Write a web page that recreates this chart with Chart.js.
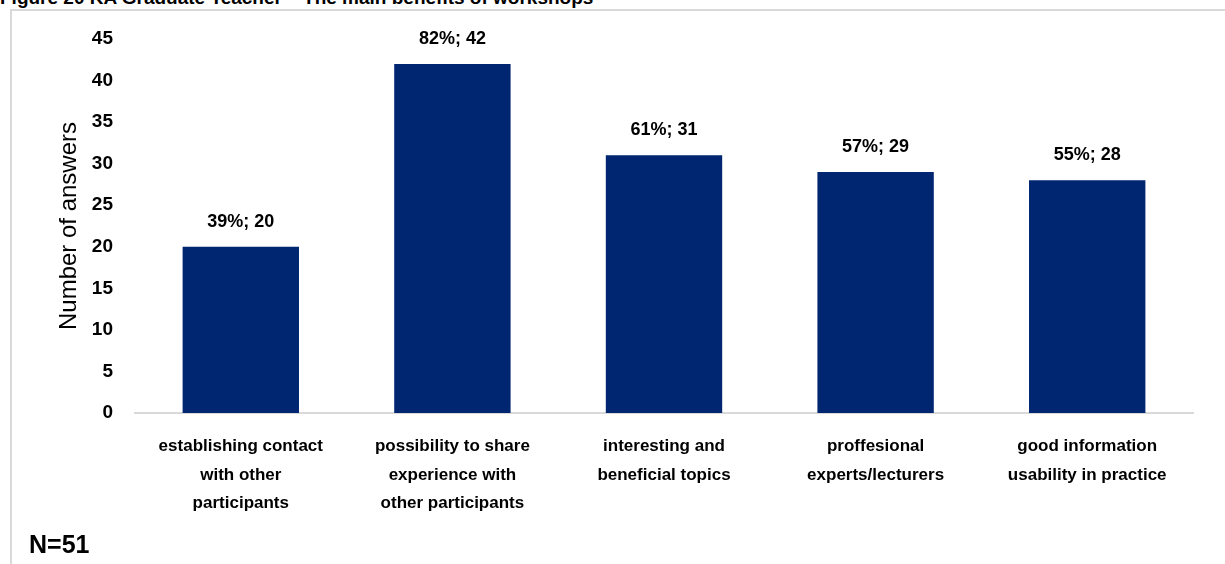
<!DOCTYPE html>
<html>
<head>
<meta charset="utf-8">
<script src="https://cdn.jsdelivr.net/npm/chart.js@4.4.1/dist/chart.umd.min.js"></script>
<style>
  html, body { margin: 0; padding: 0; background: #fff; overflow: hidden; }
  #wrap { position: relative; width: 1225px; height: 564px; }
  #caption { position: absolute; left: 0; top: -12px; font: bold 19px "Liberation Sans", Arial, sans-serif; color: #000; white-space: nowrap; line-height: 19px; }
  #frame { position: absolute; left: 10px; top: 9px; width: 1230px; height: 600px; border-left: 2px solid #d9d9d9; border-top: 2px solid #d9d9d9; background: #fff; }
  #note { position: absolute; left: 29px; top: 530px; font: bold 25px "Liberation Sans", Arial, sans-serif; color: #000; }
  canvas { position: absolute; left: 0; top: 0; }
</style>
</head>
<body>
<div id="wrap">
  <div id="caption">Figure 20 KA Graduate Teacher – The main benefits of workshops</div>
  <div id="frame"></div>
  <canvas id="chart" width="1225" height="564"></canvas>
  <div id="note">N=51</div>
</div>
<script>
// Benefits of the workshops: respondents per answer and share of N
const categories = [
  ["establishing contact", "with other", "participants"],
  ["possibility to share", "experience with", "other participants"],
  ["interesting and", "beneficial topics"],
  ["proffesional", "experts/lecturers"],
  ["good information", "usability in practice"]
];
const answers = [20, 42, 31, 29, 28];
const shares = [39, 82, 61, 57, 55];
const yTicks = [0, 5, 10, 15, 20, 25, 30, 35, 40, 45];

const BAR = '#002672';
const LABEL_FONT = '"Liberation Sans", Arial, sans-serif';

// Writes "share%; count" above each bar
const valueLabels = {
  id: 'valueLabels',
  afterDatasetsDraw(chart) {
    const ctx = chart.ctx;
    const meta = chart.getDatasetMeta(0);
    ctx.save();
    ctx.font = 'bold 18px ' + LABEL_FONT;
    ctx.fillStyle = '#000';
    ctx.textAlign = 'center';
    ctx.textBaseline = 'alphabetic';
    meta.data.forEach((bar, i) => {
      ctx.fillText(shares[i] + '%; ' + answers[i], bar.x, bar.y - 20);
    });
    ctx.restore();
  }
};

new Chart(document.getElementById('chart'), {
  type: 'bar',
  data: {
    labels: categories,
    datasets: [{
      data: answers,
      backgroundColor: BAR,
      borderWidth: 0,
      categoryPercentage: 1,
      barPercentage: 0.55
    }]
  },
  options: {
    responsive: false,
    animation: false,
    events: [],
    layout: { padding: { left: 55, right: 32, top: 39, bottom: 0 } },
    plugins: {
      legend: { display: false },
      tooltip: { enabled: false }
    },
    scales: {
      x: {
        grid: { display: false },
        border: { display: true, color: '#d9d9d9', width: 2 },
        ticks: {
          color: '#000',
          font: { family: LABEL_FONT, size: 17, weight: 'bold', lineHeight: 1.68 },
          padding: 11,
          maxRotation: 0,
          autoSkip: false
        },
        afterFit(s) { s.height = 151; }
      },
      y: {
        min: 0,
        max: 45,
        afterBuildTicks(s) { s.ticks = yTicks.map(v => ({ value: v })); },
        grid: { display: false },
        border: { display: false },
        ticks: {
          color: '#000',
          font: { family: LABEL_FONT, size: 19, weight: 'bold' },
          padding: 14
        },
        title: {
          display: true,
          text: 'Number of answers',
          color: '#000',
          font: { family: LABEL_FONT, size: 24 },
          padding: { top: 0, bottom: 0 }
        },
        afterFit(s) { s.width = 80; }
      }
    }
  },
  plugins: [valueLabels]
});
</script>
</body>
</html>
